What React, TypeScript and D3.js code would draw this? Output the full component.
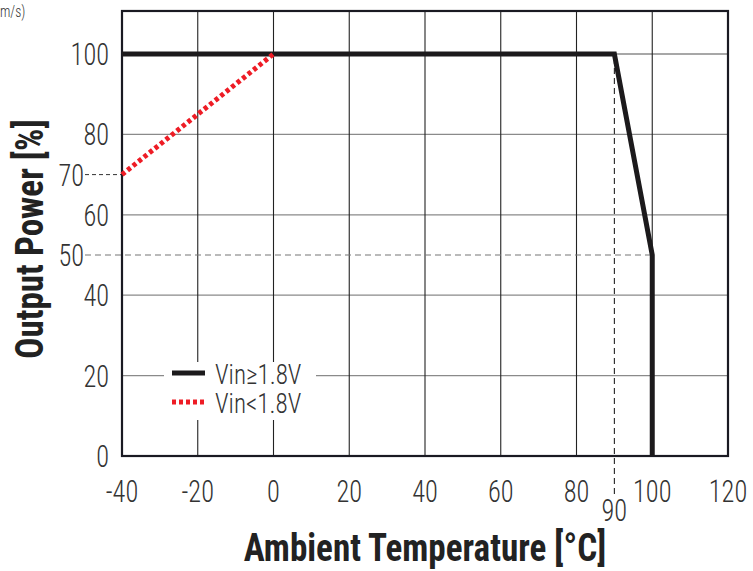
import React from "react";
import * as d3 from "d3";

const xTicks = [-40, -20, 0, 20, 40, 60, 80, 100, 120];
const yTicks = [0, 20, 40, 60, 80, 100];
const seriesHigh = [
  { t: -40, p: 100 },
  { t: 90, p: 100 },
  { t: 100, p: 50 },
  { t: 100, p: 0 },
];
const seriesLow = [
  { t: -40, p: 70 },
  { t: 0, p: 100 },
];
const legendLabels = ["Vin≥1.8V", "Vin<1.8V"];
const markerY = [70, 50];
const markerX = [90];

const W = 753;
const H = 571;
const FONT = "'Roboto Condensed', Roboto, 'Liberation Sans', sans-serif";

function T(props: {
  x: number;
  y: number;
  size: number;
  sx?: number;
  anchor?: string;
  weight?: string | number;
  fill?: string;
  rotate?: number;
  children: React.ReactNode;
}) {
  const { x, y, size, sx = 0.85, anchor = "start", weight = 300, fill = "#333", rotate = 0, children } = props;
  return (
    <text
      transform={`translate(${x},${y}) rotate(${rotate}) scale(${sx},1)`}
      fontSize={size}
      fontWeight={weight}
      fill={fill}
      textAnchor={anchor}
    >
      {children}
    </text>
  );
}

export default function App() {
  const x = d3.scaleLinear().domain([-40, 120]).range([122, 728]);
  const y = d3.scaleLinear().domain([0, 100]).range([456, 54]);
  const top = y(110.7);
  const line = d3
    .line<{ t: number; p: number }>()
    .x((d) => x(d.t))
    .y((d) => y(d.p));

  return (
    <svg
      width={W}
      height={H}
      style={{ position: "absolute", left: 0, top: 0, background: "#fff" }}
      fontFamily={FONT}
    >
      <T x={0} y={17} size={16} sx={0.85}>m/s)</T>
      {/* horizontal grid */}
      {yTicks.filter((v) => v > 0).map((v) => (
        <line key={"h" + v} x1={x(-40)} x2={x(120)} y1={y(v)} y2={y(v)} stroke="#8a8a8a" strokeWidth={1.3} />
      ))}
      {/* vertical grid */}
      {xTicks.filter((v) => v > -40 && v < 120).map((v) => (
        <line key={"v" + v} x1={x(v)} x2={x(v)} y1={top} y2={y(0)} stroke="#222" strokeWidth={1.1} />
      ))}
      {/* dashed markers */}
      <line x1={85} x2={x(-40)} y1={y(markerY[0])} y2={y(markerY[0])} stroke="#333" strokeWidth={1} strokeDasharray="4,3" />
      <line x1={85} x2={x(100)} y1={y(markerY[1])} y2={y(markerY[1])} stroke="#777" strokeWidth={1.2} strokeDasharray="6,4" />
      <line x1={x(markerX[0])} x2={x(markerX[0])} y1={y(100) + 4} y2={497} stroke="#222" strokeWidth={1.1} strokeDasharray="6,4" />
      {/* frame */}
      <rect x={x(-40)} y={top} width={x(120) - x(-40)} height={y(0) - top} fill="none" stroke="#1a1a22" strokeWidth={2.2} />
      {/* legend background */}
      <rect x={164} y={362} width={152} height={58} fill="#fff" />
      {/* series */}
      <path d={line(seriesHigh) || ""} fill="none" stroke="#1c1a1c" strokeWidth={5} strokeLinejoin="miter" />
      <path d={line(seriesLow) || ""} fill="none" stroke="#ee1c25" strokeWidth={5} strokeDasharray="4,3" />
      {/* legend */}
      <line x1={172} x2={205} y1={373} y2={373} stroke="#1c1a1c" strokeWidth={5} />
      <line x1={172} x2={205} y1={402} y2={402} stroke="#ee1c25" strokeWidth={5} strokeDasharray="4,3" />
      <T x={215} y={384} size={27} sx={0.93}>{legendLabels[0]}</T>
      <T x={215} y={413} size={27} sx={0.93}>{legendLabels[1]}</T>
      {/* y tick labels */}
      {yTicks.map((v) => (
        <T key={"yl" + v} x={109} y={y(v) + 11} size={31} anchor="end">
          {v}
        </T>
      ))}
      <T x={84} y={y(markerY[0]) + 11} size={31} anchor="end">
        {markerY[0]}
      </T>
      <T x={84} y={y(markerY[1]) + 11} size={31} anchor="end">
        {markerY[1]}
      </T>
      {/* x tick labels */}
      {xTicks.map((v) => (
        <T key={"xl" + v} x={x(v)} y={502} size={31} anchor="middle">
          {v}
        </T>
      ))}
      <T x={x(markerX[0])} y={521} size={31} anchor="middle">
        {markerX[0]}
      </T>
      {/* axis titles */}
      <T x={425} y={561} size={39} sx={0.9} weight="bold" fill="#222" anchor="middle">
        Ambient Temperature [°C]
      </T>
      <T x={43} y={239} size={39} sx={0.9} weight="bold" fill="#222" anchor="middle" rotate={-90}>
        Output Power [%]
      </T>
    </svg>
  );
}
